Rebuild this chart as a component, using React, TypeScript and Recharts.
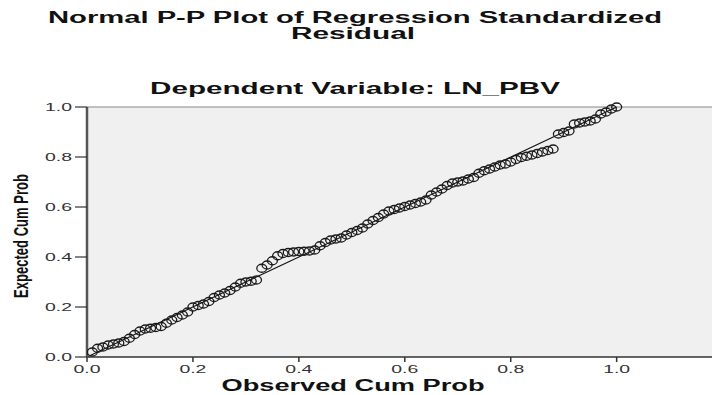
import React from "react";
import { ScatterChart, Scatter, XAxis, YAxis, CartesianGrid, ReferenceLine } from "recharts";

const observedCumProb = [
  0.01, 0.02, 0.03, 0.04, 0.05, 0.06, 0.07, 0.08, 0.09, 0.10,
  0.11, 0.12, 0.13, 0.14, 0.15, 0.16, 0.17, 0.18, 0.19, 0.20,
  0.21, 0.22, 0.23, 0.24, 0.25, 0.26, 0.27, 0.28, 0.29, 0.30,
  0.31, 0.32, 0.33, 0.34, 0.35, 0.36, 0.37, 0.38, 0.39, 0.40,
  0.41, 0.42, 0.43, 0.44, 0.45, 0.46, 0.47, 0.48, 0.49, 0.50,
  0.51, 0.52, 0.53, 0.54, 0.55, 0.56, 0.57, 0.58, 0.59, 0.60,
  0.61, 0.62, 0.63, 0.64, 0.65, 0.66, 0.67, 0.68, 0.69, 0.70,
  0.71, 0.72, 0.73, 0.74, 0.75, 0.76, 0.77, 0.78, 0.79, 0.80,
  0.81, 0.82, 0.83, 0.84, 0.85, 0.86, 0.87, 0.88, 0.89, 0.90,
  0.91, 0.92, 0.93, 0.94, 0.95, 0.96, 0.97, 0.98, 0.99, 1.00,
];

const expectedCumProb = [
  0.020, 0.035, 0.040, 0.048, 0.052, 0.056, 0.062, 0.075, 0.090, 0.104,
  0.112, 0.115, 0.118, 0.122, 0.135, 0.148, 0.158, 0.168, 0.180, 0.200,
  0.206, 0.212, 0.222, 0.238, 0.248, 0.256, 0.266, 0.280, 0.295, 0.300,
  0.303, 0.308, 0.355, 0.368, 0.385, 0.405, 0.414, 0.418, 0.420, 0.422,
  0.423, 0.424, 0.428, 0.445, 0.458, 0.468, 0.472, 0.476, 0.488, 0.498,
  0.506, 0.516, 0.532, 0.546, 0.558, 0.572, 0.584, 0.590, 0.596, 0.602,
  0.608, 0.614, 0.620, 0.628, 0.648, 0.660, 0.672, 0.686, 0.696, 0.700,
  0.704, 0.712, 0.718, 0.735, 0.745, 0.752, 0.760, 0.768, 0.772, 0.780,
  0.790, 0.798, 0.803, 0.808, 0.814, 0.820, 0.826, 0.832, 0.892, 0.898,
  0.904, 0.932, 0.936, 0.940, 0.944, 0.952, 0.972, 0.980, 0.992, 1.000,
];

const xTicks = [0, 0.2, 0.4, 0.6, 0.8, 1.0];
const yTicks = [0, 0.2, 0.4, 0.6, 0.8, 1.0];

const titleLine1 = "Normal P-P Plot of Regression Standardized";
const titleLine2 = "Residual";
const subtitle = "Dependent Variable: LN_PBV";
const xLabel = "Observed Cum Prob";
const yLabel = "Expected Cum Prob";

const data = observedCumProb.map((x, i) => ({ x, y: expectedCumProb[i] }));

const FONT = "'Liberation Sans', Arial, sans-serif";

const XTick = (props: any) => {
  const { x, y, payload } = props;
  return (
    <text x={x} y={y + 9} textAnchor="middle" fontFamily={FONT} fontSize={11.5} fill="#333"
      textLength={27} lengthAdjust="spacingAndGlyphs">
      {Number(payload.value).toFixed(1)}
    </text>
  );
};

const YTick = (props: any) => {
  const { x, y, payload } = props;
  return (
    <text x={x - 1} y={y + 4} textAnchor="end" fontFamily={FONT} fontSize={11.5} fill="#333"
      textLength={27} lengthAdjust="spacingAndGlyphs">
      {Number(payload.value).toFixed(1)}
    </text>
  );
};

const Ring = (props: any) => {
  const { cx, cy } = props;
  return <ellipse cx={cx} cy={cy} rx={5} ry={4} fill="none" stroke="#1a1a1a" strokeWidth={1.3} />;
};

export default function App() {
  return (
    <div style={{ position: "absolute", left: 0, top: 0, width: 712, height: 395, background: "#fff" }}>
      <ScatterChart width={712} height={395} margin={{ top: 107, right: 0, bottom: 0, left: 0 }}>
        <CartesianGrid fill="#f0f0f0" horizontal={false} vertical={false} />
        <XAxis
          type="number"
          dataKey="x"
          domain={[0, 1.18]}
          ticks={xTicks}
          height={38}
          tickSize={5}
          axisLine={{ stroke: "#333", strokeWidth: 1.5 }}
          tickLine={{ stroke: "#333", strokeWidth: 1.5 }}
          tick={<XTick />}
          allowDataOverflow
        />
        <YAxis
          type="number"
          dataKey="y"
          domain={[0, 1]}
          ticks={yTicks}
          width={87}
          tickSize={12}
          axisLine={{ stroke: "#555", strokeWidth: 2.5 }}
          tickLine={{ stroke: "#333", strokeWidth: 1.2 }}
          tick={<YTick />}
        />
        <ReferenceLine y={1} stroke="#888" strokeWidth={1.2} />
        <ReferenceLine
          segment={[{ x: 0, y: 0 }, { x: 1, y: 1 }]}
          stroke="#111"
          strokeWidth={1.1}
          ifOverflow="visible"
        />
        <Scatter data={data} shape={<Ring />} isAnimationActive={false} />
      </ScatterChart>
      <svg width={712} height={395} style={{ position: "absolute", left: 0, top: 0, pointerEvents: "none" }}>
        <text x={355} y={23} textAnchor="middle" fontFamily={FONT} fontWeight="bold" fontSize={16}
          fill="#111" textLength={614} lengthAdjust="spacingAndGlyphs">{titleLine1}</text>
        <text x={353} y={39} textAnchor="middle" fontFamily={FONT} fontWeight="bold" fontSize={16}
          fill="#111" textLength={124} lengthAdjust="spacingAndGlyphs">{titleLine2}</text>
        <text x={355} y={94} textAnchor="middle" fontFamily={FONT} fontWeight="bold" fontSize={17}
          fill="#111" textLength={410} lengthAdjust="spacingAndGlyphs">{subtitle}</text>
        <text x={353} y={391} textAnchor="middle" fontFamily={FONT} fontWeight="bold" fontSize={16}
          fill="#111" textLength={263} lengthAdjust="spacingAndGlyphs">{xLabel}</text>
        <text x={0} y={0} transform="translate(28,236) rotate(-90)" textAnchor="middle" fontFamily={FONT}
          fontWeight="bold" fontSize={21} fill="#111" textLength={124} lengthAdjust="spacingAndGlyphs">{yLabel}</text>
      </svg>
    </div>
  );
}
